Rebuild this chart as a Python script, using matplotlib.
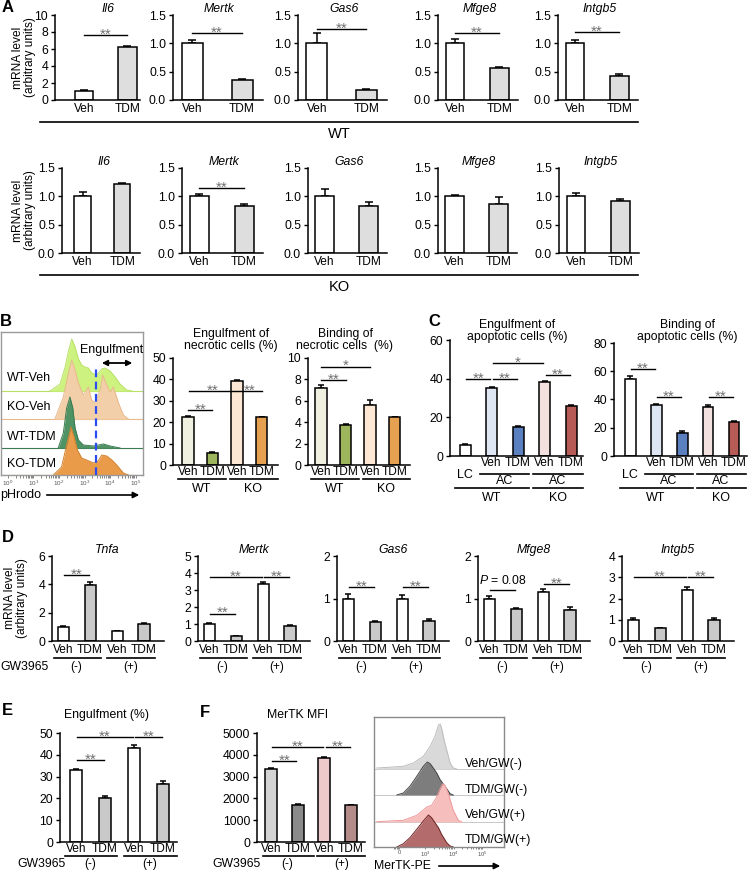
import numpy as np
import matplotlib
matplotlib.use('Agg')
import matplotlib.pyplot as plt
from matplotlib.lines import Line2D
from matplotlib.patches import FancyArrowPatch

plt.rcParams['font.family'] = ['Liberation Sans', 'DejaVu Sans']
plt.rcParams['mathtext.fontset'] = 'custom'
plt.rcParams['mathtext.rm'] = 'Liberation Sans'
plt.rcParams['mathtext.it'] = 'Liberation Sans:italic'
plt.rcParams['axes.linewidth'] = 1.1

# ---------------- data ----------------
A_genes = ['Il6', 'Mertk', 'Gas6', 'Mfge8', 'Intgb5']
A_groups = ['Veh', 'TDM']
A_wt_mean = [[1.0, 6.2], [1.0, 0.35], [1.0, 0.18], [1.0, 0.57], [1.0, 0.42]]
A_wt_err = [[0.2, 0.2], [0.05, 0.02], [0.18, 0.01], [0.07, 0.02], [0.06, 0.03]]
A_wt_ymax = [10, 1.5, 1.5, 1.5, 1.5]
A_wt_sig = [7.6, 1.18, 1.25, 1.18, 1.2]
A_ko_mean = [[1.0, 1.22], [1.0, 0.83], [1.0, 0.83], [1.0, 0.86], [1.0, 0.92]]
A_ko_err = [[0.08, 0.02], [0.04, 0.03], [0.13, 0.07], [0.03, 0.12], [0.05, 0.04]]
A_ko_sig = [None, 1.15, None, None, None]
A_colors = ['white', '#dedede']

B_groups = ['Veh', 'TDM', 'Veh', 'TDM']
B_geno = ['WT', 'KO']
B_eng = [22.3, 5.5, 39.3, 22.2]
B_eng_err = [0.8, 0.5, 0.3, 0.2]
B_bind = [7.2, 3.7, 5.6, 4.45]
B_bind_err = [0.25, 0.15, 0.45, 0.08]
B_colors = ['#f0f0e1', '#9db55c', '#fbe7d3', '#e6a052']
B_eng_sig = [(0, 1, 25.7), (0, 2, 34.6), (2, 3, 34.6)]
B_bind_sig = [(0, 1, 7.9), (0, 2, 9.2)]
B_bind_sig_lab = ['**', '*']

# flow histograms (log10 pHrodo, height)
B_hist_names = ['WT-Veh', 'KO-Veh', 'WT-TDM', 'KO-TDM']
B_wtveh_x = [1.65, 2.04, 2.24, 2.37, 2.5, 2.63, 2.76, 2.89, 3.02, 3.15, 3.28, 3.48, 3.67, 3.8, 4.0, 4.2, 4.39, 4.65, 4.85]
B_wtveh_h = [0, 7, 24, 40, 52, 44, 32, 26, 24, 23, 18, 16, 22, 23, 20, 14, 7, 1, 0]
B_koveh_x = [1.84, 2.17, 2.37, 2.5, 2.63, 2.76, 2.95, 3.15, 3.28, 3.41, 3.61, 3.71, 3.84, 4.0, 4.13, 4.33, 4.52, 4.72]
B_koveh_h = [0, 22, 46, 59, 49, 36, 24, 32, 19, 16, 29, 44, 36, 27, 32, 16, 4, 0]
B_wttdm_x = [1.97, 2.17, 2.3, 2.43, 2.54, 2.63, 2.76, 2.95, 3.35, 3.74, 4.0, 4.39]
B_wttdm_h = [0, 15, 40, 51, 40, 20, 8, 3, 2, 4, 2, 0]
B_kotdm_x = [1.78, 2.1, 2.3, 2.47, 2.59, 2.72, 2.89, 3.08, 3.35, 3.54, 3.67, 3.87, 4.07, 4.26, 4.52, 4.72]
B_kotdm_h = [0, 8, 30, 48, 38, 25, 17, 15, 12, 14, 20, 19, 15, 10, 2, 0]
B_gate = 3.45

C_labels = ['LC', 'Veh', 'TDM', 'Veh', 'TDM']
C_eng = [5.8, 35.2, 15.0, 38.5, 25.8]
C_eng_err = [0.3, 0.5, 0.3, 0.5, 0.8]
C_bind = [54.5, 36.0, 16.5, 34.5, 24.0]
C_bind_err = [2.0, 0.5, 1.2, 1.5, 0.5]
C_colors = ['white', '#dde6f2', '#5b80c0', '#f3e1e0', '#b65b56']
C_eng_sig = [(0, 1, 39.7, '**'), (1, 2, 39.7, '**'), (1, 3, 48.0, '*'), (3, 4, 41.8, '**')]
C_bind_sig = [(0, 1, 61.5, '**'), (1, 2, 41.7, '**'), (3, 4, 41.7, '**')]

D_genes = ['Tnfa', 'Mertk', 'Gas6', 'Mfge8', 'Intgb5']
D_groups = ['Veh', 'TDM', 'Veh', 'TDM']
D_gw = ['(-)', '(+)']
D_mean = [[1.0, 3.95, 0.68, 1.2], [1.0, 0.28, 3.35, 0.9], [1.0, 0.45, 0.98, 0.47],
          [1.0, 0.75, 1.15, 0.73], [1.0, 0.6, 2.4, 1.0]]
D_err = [[0.07, 0.25, 0.05, 0.08], [0.08, 0.03, 0.12, 0.05], [0.1, 0.03, 0.1, 0.04],
         [0.06, 0.02, 0.08, 0.06], [0.08, 0.03, 0.15, 0.08]]
D_ymax = [6, 5, 2, 2, 4]
D_ystep = [2, 1, 1, 1, 1]
D_sig = [[(0, 1, 4.66, '**')],
         [(0, 1, 1.6, '**'), (0, 2, 3.76, '**'), (2, 3, 3.76, '**')],
         [(0, 1, 1.27, '**'), (2, 3, 1.27, '**')],
         [(0, 1, 1.2, '$\\it{P}$ = 0.08'), (2, 3, 1.34, '**')],
         [(0, 2, 3.0, '**'), (2, 3, 3.0, '**')]]
D_colors = ['white', '#c9c9c9', 'white', '#c9c9c9']

E_mean = [33.0, 20.3, 43.3, 26.5]
E_err = [0.3, 0.8, 1.0, 1.5]
E_colors = ['white', '#c9c9c9', 'white', '#c9c9c9']
E_sig = [(0, 1, 37.6), (0, 2, 48.2), (2, 3, 48.2)]

F_mean = [3330, 1700, 3870, 1680]
F_err = [80, 30, 40, 15]
F_colors = ['#d3d3d3', '#8a8a8a', '#eecaca', '#b48c8a']
F_sig = [(0, 1, 3700), (0, 2, 4360), (2, 3, 4360)]

F_hist_names = ['Veh/GW(-)', 'TDM/GW(-)', 'Veh/GW(+)', 'TDM/GW(+)']
F_h1_x = [1.31, 2.24, 2.59, 2.94, 3.18, 3.35, 3.47, 3.53, 3.58, 3.67, 3.76, 3.88, 3.99, 4.11]
F_h1_h = [1, 2.7, 6, 12.7, 22.7, 32.7, 44, 45, 41, 29, 19, 6, 1, 0]
F_h2_x = [2.01, 2.24, 2.47, 2.71, 2.94, 3.08, 3.18, 3.29, 3.41, 3.53, 3.70, 3.88, 3.99]
F_h2_h = [0, 2, 8.7, 18.7, 28.7, 33, 31.3, 27, 22, 15.3, 8.7, 1.3, 0]
F_h3_x = [1.31, 2.24, 2.71, 3.06, 3.23, 3.41, 3.53, 3.62, 3.70, 3.82, 3.99, 4.17, 4.29]
F_h3_h = [0.3, 1.7, 6.7, 15, 16.7, 25, 33.3, 38.3, 36.7, 28.3, 11.7, 1.7, 0]
F_h4_x = [2.01, 2.24, 2.47, 2.71, 2.94, 3.12, 3.23, 3.35, 3.47, 3.58, 3.76, 3.88, 3.99]
F_h4_h = [0, 3.3, 9.3, 17.7, 26, 32, 29.3, 24.3, 19.3, 12.7, 4.3, 1, 0]

# ---------------- helpers ----------------
W, H = 751, 871
fig = plt.figure(figsize=(W / 100, H / 100), dpi=100)
PX = {}


def add_ax(l, t, r, b):
    ax = fig.add_axes([l / W, 1 - b / H, (r - l) / W, (b - t) / H])
    PX[ax] = (l, t, r, b)
    ax.patch.set_alpha(0)
    return ax


def yfrac(ax, ypx):
    l, t, r, b = PX[ax]
    return (b - ypx) / (b - t)


def ftext(x, y, s, **kw):
    kw.setdefault('ha', 'center')
    kw.setdefault('va', 'center')
    fig.text(x / W, 1 - y / H, s, **kw)


def fline(x0, x1, y, lw=1.2):
    fig.add_artist(Line2D([x0 / W, x1 / W], [1 - y / H, 1 - y / H], color='black', lw=lw))


def farrow(x0, x1, y):
    fig.add_artist(FancyArrowPatch((x0 / W, 1 - y / H), (x1 / W, 1 - y / H), transform=fig.transFigure,
                                   arrowstyle='-|>', mutation_scale=9, color='black', lw=1.2))


def style_ax(ax, ymax, step, xlim, fmt, fs=8.8):
    ax.set_ylim(0, ymax)
    ax.set_xlim(*xlim)
    ticks = np.arange(0, ymax + step / 2, step)
    ax.set_yticks(ticks, [fmt.format(t) for t in ticks])
    ax.spines[['top', 'right']].set_visible(False)
    ax.tick_params(axis='y', direction='out', length=3, width=1, labelsize=fs, pad=2)
    ax.tick_params(axis='x', length=0, labelsize=8.6, pad=2)


def draw_bars(ax, vals, errs, colors, width, capsize, labels):
    x = np.arange(len(vals))
    ax.errorbar(x, vals, yerr=[np.zeros(len(vals)), errs], fmt='none', ecolor='black',
                elinewidth=1.1, capsize=capsize, capthick=1.1, zorder=1)
    ax.bar(x, vals, width, color=colors, edgecolor='black', linewidth=1.1, zorder=2)
    ax.set_xticks(x, labels)
    return x


def sig(ax, i, j, y, label='**', shrink=0.0, fs=11):
    ax.plot([i + shrink, j - shrink], [y, y], color='black', lw=1.0, clip_on=False, zorder=3)
    if label.startswith('$'):
        ax.annotate(label, ((i + j) / 2, y), xytext=(0, 2), textcoords='offset points',
                    ha='center', va='bottom', fontsize=8.8)
    else:
        ax.annotate(label, ((i + j) / 2, y), xytext=(0, -2.5), textcoords='offset points',
                    ha='center', va='baseline', fontsize=fs, color='#707070')


def gline(ax, x0, x1, ypx, lw=1.2):
    y = yfrac(ax, ypx)
    ax.plot([x0, x1], [y, y], transform=ax.get_xaxis_transform(), color='black', lw=lw, clip_on=False)


def gtext(ax, x, ypx, s, fs=9):
    ax.text(x, yfrac(ax, ypx), s, transform=ax.get_xaxis_transform(), ha='center', va='center', fontsize=fs)


# ---------------- Panel A ----------------
ftext(2, 8, 'A', ha='left', fontsize=12, fontweight='bold')
A_top_px = [(55, 140), (173, 263), (298, 387), (438, 518), (558, 638)]
A_bot_px = [(62, 140), (182, 263), (308, 387), (438, 517), (559, 639)]
A_top_xlim = [(-0.67, 1.29), (-0.38, 1.42), (-0.38, 1.42), (-0.38, 1.42), (-0.38, 1.42)]
A_bot_xlim = [(-0.52, 1.45), (-0.38, 1.42), (-0.38, 1.42), (-0.38, 1.42), (-0.38, 1.42)]

for row, (pxs, xls, means, errs, ymaxs, sigs, t, b, ylx) in enumerate([
        (A_top_px, A_top_xlim, A_wt_mean, A_wt_err, A_wt_ymax, A_wt_sig, 15, 100, 24),
        (A_bot_px, A_bot_xlim, A_ko_mean, A_ko_err, [1.5] * 5, A_ko_sig, 168, 253, 24)]):
    for k, g in enumerate(A_genes):
        l, r = pxs[k]
        ax = add_ax(l, t, r, b)
        ymax = ymaxs[k]
        if ymax > 2:
            style_ax(ax, ymax, 2, xls[k], '{:.0f}')
        else:
            style_ax(ax, ymax, 0.5, xls[k], '{:.1f}')
        draw_bars(ax, means[k], errs[k], A_colors, 0.42, 3.2, A_groups)
        ax.text(0.55, 1.0, g, transform=ax.get_xaxis_transform(), ha='center', va='bottom',
                fontsize=8.8, style='italic')
        if sigs[k] is not None:
            sig(ax, 0, 1, sigs[k])
    ftext(ylx, (t + b) / 2, 'mRNA level\n(arbitrary units)', rotation=90, fontsize=8.6, linespacing=1.0)

fline(40, 638, 122)
ftext(339, 134, 'WT', fontsize=10.5)
fline(40, 638, 275)
ftext(339, 287, 'KO', fontsize=10.5)

# ---------------- Panel B ----------------
ftext(0, 322, 'B', ha='left', fontsize=12, fontweight='bold')
axh = add_ax(1, 332, 143, 475)
axh.set_xlim(-0.27, 5.29)
axh.set_ylim(0, 143)
for s in axh.spines.values():
    s.set_color('#9a9a9a')
    s.set_linewidth(1.0)
B_hist = [(B_wtveh_x, B_wtveh_h), (B_koveh_x, B_koveh_h), (B_wttdm_x, B_wttdm_h), (B_kotdm_x, B_kotdm_h)]
B_fill = ['#cdf280', '#f3cfa9', '#4f9365', '#ea9b4a']
B_edge = ['#b7e065', '#e8b98c', '#3a7a50', '#d2822f']
B_base = [84, 56, 27, 0]
for (hx, hh), fc, ec, base in zip(B_hist, B_fill, B_edge, B_base):
    hx = np.array(hx)
    hh = np.array(hh)
    axh.axhline(base, color=ec, lw=0.8, zorder=1)
    axh.fill_between(hx, base, base + hh, color=fc, lw=0, zorder=2)
    axh.plot(hx, base + hh, color=ec, lw=0.7, zorder=2)
axh.plot([B_gate, B_gate], [0, 108], ls=(0, (3.5, 2)), color='#2a4cf0', lw=1.6, zorder=4)
for name, yy in zip(B_hist_names, [97, 68, 38, 11]):
    axh.text(-0.04, yy, name, ha='left', va='center', fontsize=9, zorder=5)
axh.annotate('', xy=(4.98, 112), xytext=(3.57, 112),
             arrowprops=dict(arrowstyle='<|-|>', color='black', lw=1.3, mutation_scale=8))
axh.text(4.08, 125, 'Engulfment', ha='center', va='center', fontsize=9)
axh.set_yticks([])
axh.set_xticks(range(6), ['$10^{%d}$' % i for i in range(6)], fontsize=4.5)
axh.set_xticks([np.log10(k) + n for n in range(5) for k in range(2, 10)], minor=True)
axh.tick_params(axis='x', which='both', length=2, width=0.5, pad=1, colors='#555555')
ftext(0, 495, 'pHrodo', ha='left', fontsize=9)
farrow(44, 142, 495)

# Engulfment of necrotic cells
ax = add_ax(173, 358, 278, 465)
style_ax(ax, 50, 10, (-0.61, 3.67), '{:.0f}')
draw_bars(ax, B_eng, B_eng_err, B_colors, 0.46, 2.2, B_groups)
ax.tick_params(axis='x', pad=1)
for i, j, y in B_eng_sig:
    sig(ax, i, j, y, shrink=0.06 if j - i == 2 else 0.0)
gline(ax, -0.42, 1.55, 479)
gline(ax, 1.7, 3.67, 479)
gtext(ax, 0.55, 489, B_geno[0])
gtext(ax, 2.65, 489, B_geno[1])
ftext(231, 340, 'Engulfment of\nnecrotic cells (%)', fontsize=8.8, linespacing=1.05)

# Binding of necrotic cells
ax = add_ax(308, 358, 410, 465)
style_ax(ax, 10, 2, (-0.53, 3.63), '{:.0f}')
draw_bars(ax, B_bind, B_bind_err, B_colors, 0.46, 2.2, B_groups)
ax.tick_params(axis='x', pad=1)
for (i, j, y), lab in zip(B_bind_sig, B_bind_sig_lab):
    sig(ax, i, j, y, label=lab)
gline(ax, -0.42, 1.55, 479)
gline(ax, 1.7, 3.63, 479)
gtext(ax, 0.55, 489, B_geno[0])
gtext(ax, 2.65, 489, B_geno[1])
ftext(345, 340, 'Binding of\nnecrotic cells  (%)', fontsize=8.8, linespacing=1.05)

# ---------------- Panel C ----------------
ftext(428, 322, 'C', ha='left', fontsize=12, fontweight='bold')
for (l, t, r, xl, vals, errs, ymax, sigs, title, cx) in [
        (450, 340, 583, (-0.57, 4.45), C_eng, C_eng_err, 60, C_eng_sig, 'Engulfment of\napoptotic cells (%)', 517),
        (614, 343, 747, (-0.62, 4.5), C_bind, C_bind_err, 80, C_bind_sig, 'Binding of\napoptotic cells (%)', 687)]:
    ax = add_ax(l, t, r, 456)
    style_ax(ax, ymax, 20, xl, '{:.0f}')
    draw_bars(ax, vals, errs, C_colors, 0.42, 2.2, [''] + C_labels[1:])
    ax.tick_params(axis='x', pad=1)
    for i, j, y, lab in sigs:
        sig(ax, i, j, y, label=lab, shrink=0.05)
    gtext(ax, 0, 475, C_labels[0])
    gline(ax, 0.58, 2.42, 474)
    gline(ax, 2.58, 4.45, 474)
    gtext(ax, 1.5, 481, 'AC')
    gtext(ax, 3.5, 481, 'AC')
    gline(ax, -0.4, 2.42, 488)
    gline(ax, 2.58, 4.45, 488)
    gtext(ax, 1.0, 498, B_geno[0])
    gtext(ax, 3.5, 498, B_geno[1])
    ftext(cx, 331, title, fontsize=8.8, linespacing=1.05)

# ---------------- Panel D ----------------
ftext(2, 538, 'D', ha='left', fontsize=12, fontweight='bold')
D_left = [52, 198, 337, 478, 622]
for k, g in enumerate(D_genes):
    L = D_left[k]
    ax = add_ax(L, 556, L + 112, 641)
    style_ax(ax, D_ymax[k], D_ystep[k], (-0.41, 3.74), '{:.0f}')
    draw_bars(ax, D_mean[k], D_err[k], D_colors, 0.41, 2.0, D_groups)
    ax.text(1.65, 1.0, g, transform=ax.get_xaxis_transform(), ha='center', va='bottom',
            fontsize=8.8, style='italic')
    for i, j, y, lab in D_sig[k]:
        sig(ax, i, j, y, label=lab, shrink=0.05)
    gline(ax, -0.35, 1.4, 658)
    gline(ax, 1.62, 3.4, 658)
    gtext(ax, 0.5, 667, D_gw[0], fs=8.5)
    gtext(ax, 2.5, 667, D_gw[1], fs=8.5)
ftext(16, 598, 'mRNA level\n(arbitrary units)', rotation=90, fontsize=8.6, linespacing=1.0)
ftext(0, 667, 'GW3965', ha='left', fontsize=8.8)

# ---------------- Panel E ----------------
ftext(2, 710, 'E', ha='left', fontsize=12, fontweight='bold')
ax = add_ax(60, 733, 177, 842)
style_ax(ax, 50, 10, (-0.55, 3.48), '{:.0f}')
draw_bars(ax, E_mean, E_err, E_colors, 0.42, 2.4, D_groups)
ax.tick_params(axis='x', pad=1)
for i, j, y in E_sig:
    sig(ax, i, j, y, shrink=0.05)
gline(ax, -0.38, 1.4, 856)
gline(ax, 1.65, 3.48, 856)
gtext(ax, 0.5, 864, D_gw[0], fs=8.5)
gtext(ax, 2.55, 864, D_gw[1], fs=8.5)
ftext(107, 715, 'Engulfment (%)', fontsize=8.8)
ftext(17, 864, 'GW3965', ha='left', fontsize=8.8)

# ---------------- Panel F ----------------
ftext(200, 712, 'F', ha='left', fontsize=12, fontweight='bold')
ax = add_ax(257, 733, 365, 842)
style_ax(ax, 5000, 1000, (-0.52, 3.52), '{:.0f}')
draw_bars(ax, F_mean, F_err, F_colors, 0.45, 2.2, D_groups)
ax.tick_params(axis='x', pad=1)
for i, j, y in F_sig:
    sig(ax, i, j, y, shrink=0.05)
gline(ax, -0.3, 1.6, 856)
gline(ax, 1.73, 3.52, 856)
gtext(ax, 0.6, 864, D_gw[0], fs=8.5)
gtext(ax, 2.65, 864, D_gw[1], fs=8.5)
ftext(298, 715, 'MerTK MFI', fontsize=8.8)
ftext(212, 864, 'GW3965', ha='left', fontsize=8.8)

axf = add_ax(374, 717, 504, 847)
axf.set_xlim(1.21, 5.77)
axf.set_ylim(0, 130)
for s in axf.spines.values():
    s.set_color('#8a8a8a')
    s.set_linewidth(1.0)
F_hist = [(F_h1_x, F_h1_h), (F_h2_x, F_h2_h), (F_h3_x, F_h3_h), (F_h4_x, F_h4_h)]
F_fill = ['#d9d9d9', '#7d7d7d', '#f7bebe', '#b36b6b']
F_edge = ['#bdbdbd', '#444444', '#ee9a9a', '#6e2424']
F_base = [78, 52, 25, 0]
for (hx, hh), fc, ec, base in zip(F_hist, F_fill, F_edge, F_base):
    hx = np.array(hx)
    hh = np.array(hh)
    axf.axhline(base, color='#c8c8c8', lw=0.7, zorder=1)
    axf.fill_between(hx, base, base + hh, color=fc, lw=0, zorder=2)
    axf.plot(hx, base + hh, color=ec, lw=0.7, zorder=2)
for name, yy in zip(F_hist_names, [83, 57, 32, 7]):
    axf.text(4.4, yy, name, ha='left', va='center', fontsize=8.8, zorder=5)
axf.set_yticks([])
axf.set_xticks([2.1, 3, 4, 5], ['0', '$10^{3}$', '$10^{4}$', '$10^{5}$'], fontsize=4.2)
axf.set_xticks([np.log10(k) + n for n in range(3, 5) for k in range(2, 10)] + [1.9, 1.95, 2.0, 2.05], minor=True)
axf.tick_params(axis='x', which='both', length=1.5, width=0.5, pad=0.5, colors='#555555')
ftext(374, 866, 'MerTK-PE', ha='left', fontsize=8.8)
farrow(436, 503, 866)

fig.savefig('out.png', dpi=100)
